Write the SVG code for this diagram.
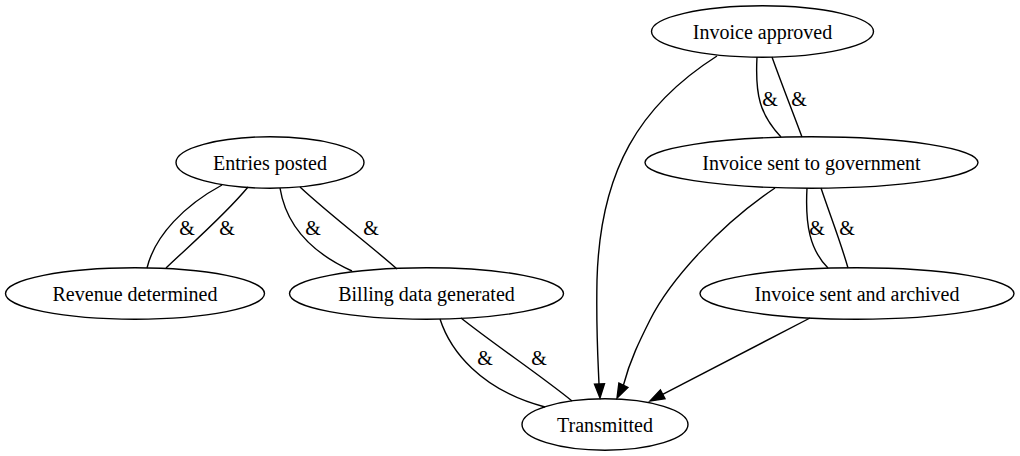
<svg xmlns="http://www.w3.org/2000/svg" width="1020" height="456" viewBox="0 0 1020 456">
<style>
.n ellipse{fill:none;stroke:#000;stroke-width:1.4}
.t text{font-size:20px;fill:#000;text-anchor:middle}
.e path{fill:none;stroke:#000;stroke-width:1.4}
.e polygon{fill:#000;stroke:#000;stroke-width:1.4}
</style>
<rect width="1020" height="456" fill="#fff"/>
<g class="t" font-family="Liberation Serif, Times New Roman, Times, DejaVu Serif, serif">
<g id="edges" class="e">
<path d="M222,185 C185,205 155,235 147,268"/>
<path d="M248,187 C225,215 190,245 166,268"/>
<path d="M280,188 C286,225 310,252 352,271"/>
<path d="M300,187 C330,215 370,245 397,269"/>
<path d="M440,319 C450,350 480,390 545,407"/>
<path d="M461,318 C495,345 540,375 572,401"/>
<path d="M757,57 C755,95 760,115 781,137"/>
<path d="M772,57 C782,85 792,110 802,137"/>
<path d="M807,188 C805,225 810,250 828,268"/>
<path d="M821,188 C830,215 840,240 848,268"/>
<path d="M717,56 C640,105 600,170 597,280 C596,330 598,360 599,384"/>
<polygon points="600,398 594.5,384.2 604.5,383.8"/>
<path d="M775,188 C720,225 670,280 650,320 C640,340 630,360 623.4,385.2"/>
<polygon points="617,398 618.9,383 627.9,387.4"/>
<path d="M810,318 L662.7,394.4"/>
<polygon points="650,401 660.4,390 665,398.8"/>
<text x="187" y="235">&amp;</text>
<text x="227" y="235">&amp;</text>
<text x="313" y="235">&amp;</text>
<text x="371" y="235">&amp;</text>
<text x="485" y="365">&amp;</text>
<text x="539" y="365">&amp;</text>
<text x="770" y="106">&amp;</text>
<text x="799" y="106">&amp;</text>
<text x="817" y="235">&amp;</text>
<text x="847" y="235">&amp;</text>
</g>
<g id="invoice_approved" class="n"><ellipse cx="762.5" cy="31.5" rx="111" ry="25.7"/><text x="762.5" y="38.5">Invoice approved</text></g>
<g id="entries_posted" class="n"><ellipse cx="270" cy="162.5" rx="94" ry="25.7"/><text x="270" y="169.5">Entries posted</text></g>
<g id="invoice_sent_to_government" class="n"><ellipse cx="811.5" cy="162.5" rx="166.5" ry="25.7"/><text x="811.5" y="169.5">Invoice sent to government</text></g>
<g id="revenue_determined" class="n"><ellipse cx="135" cy="293.5" rx="129.5" ry="25.7"/><text x="135" y="300.5">Revenue determined</text></g>
<g id="billing_data_generated" class="n"><ellipse cx="426.5" cy="293.5" rx="137" ry="25.7"/><text x="426.5" y="300.5">Billing data generated</text></g>
<g id="invoice_sent_and_archived" class="n"><ellipse cx="857" cy="293.5" rx="157" ry="25.7"/><text x="857" y="300.5">Invoice sent and archived</text></g>
<g id="transmitted" class="n"><ellipse cx="605" cy="424.5" rx="83" ry="25.7"/><text x="605" y="431.5">Transmitted</text></g>
</g>
</svg>
